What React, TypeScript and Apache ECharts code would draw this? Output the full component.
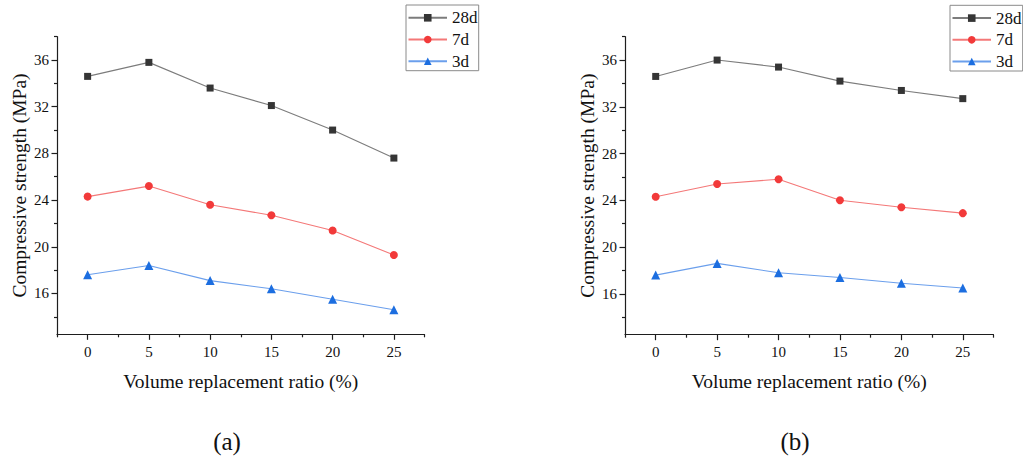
import React, { useEffect, useRef } from "react";
import * as echarts from "echarts";

// ---- data ----
const ratios = [0, 5, 10, 15, 20, 25];
const seriesNames = ["28d", "7d", "3d"];
const a28 = [34.6, 35.8, 33.6, 32.1, 30.0, 27.6];
const a7 = [24.3, 25.2, 23.6, 22.7, 21.4, 19.3];
const a3 = [17.6, 18.4, 17.1, 16.4, 15.5, 14.6];
const b28 = [34.6, 36.0, 35.4, 34.2, 33.4, 32.7];
const b7 = [24.3, 25.4, 25.8, 24.0, 23.4, 22.9];
const b3 = [17.6, 18.6, 17.8, 17.4, 16.9, 16.5];
const xMajor = [0, 5, 10, 15, 20, 25];
const xMinor = [-2.5, 2.5, 7.5, 12.5, 17.5, 22.5, 27.5];
const yMajor = [16, 20, 24, 28, 32, 36];
const yMinor = [14, 18, 22, 26, 30, 34, 38];
const panelLabels = ["(a)", "(b)"];
const xTitle = "Volume replacement ratio (%)";
const yTitle = "Compressive strength (MPa)";

const panels = [
  [a28, a7, a3],
  [b28, b7, b3],
];

// ---- styles ----
const FONT = "Liberation Serif";
const itemColors = ["#353535", "#f23a3a", "#1c6ee0"];
const lineColors = ["#7c7c7c", "#f47878", "#6b9fec"];
const symbols = ["rect", "circle", "triangle"];
const symbolSizes = [7, 8, 9];
const grids = [
  { left: 57, top: 36.7, width: 367.5, height: 297.6 },
  { left: 625, top: 36.7, width: 368.5, height: 298 },
];
const legendPos = [
  { left: 406, top: 5 },
  { left: 950, top: 5.3 },
];
const panelLabelX = [227, 795];
const AXIS_COLOR = "#1e1e1e";

function buildOption() {
  const xAxis: any[] = [];
  const yAxis: any[] = [];
  const series: any[] = [];
  grids.forEach((_, gi) => {
    xAxis.push({
      type: "value",
      gridIndex: gi,
      position: "bottom",
      min: -2.5,
      max: 27.5,
      name: xTitle,
      nameLocation: "middle",
      nameGap: 37,
      nameTextStyle: { fontFamily: FONT, fontSize: 19.5, color: "#111" },
      axisLine: { show: true, onZero: false, lineStyle: { color: AXIS_COLOR, width: 1.2 } },
      axisTick: { show: true, length: 5.5, customValues: xMajor, lineStyle: { color: AXIS_COLOR, width: 1.2 } },
      axisLabel: { show: true, customValues: xMajor, margin: 10, fontFamily: FONT, fontSize: 15, color: "#111" },
      splitLine: { show: false },
    });
    xAxis.push({
      type: "value",
      gridIndex: gi,
      position: "bottom",
      offset: 0,
      min: -2.5,
      max: 27.5,
      axisLine: { show: false, onZero: false },
      axisTick: { show: true, length: 3, customValues: xMinor, lineStyle: { color: AXIS_COLOR, width: 1.2 } },
      axisLabel: { show: false },
      splitLine: { show: false },
    });
    yAxis.push({
      type: "value",
      gridIndex: gi,
      position: "left",
      min: 12.5,
      max: 38,
      name: yTitle,
      nameLocation: "middle",
      nameGap: 28,
      nameTextStyle: { fontFamily: FONT, fontSize: 19.5, color: "#111" },
      axisLine: { show: true, onZero: false, lineStyle: { color: AXIS_COLOR, width: 1.2 } },
      axisTick: { show: true, length: 5.5, customValues: yMajor, lineStyle: { color: AXIS_COLOR, width: 1.2 } },
      axisLabel: { show: true, customValues: yMajor, margin: 8, fontFamily: FONT, fontSize: 15, color: "#111" },
      splitLine: { show: false },
    });
    yAxis.push({
      type: "value",
      gridIndex: gi,
      position: "left",
      offset: 0,
      min: 12.5,
      max: 38,
      axisLine: { show: false, onZero: false },
      axisTick: { show: true, length: 3, customValues: yMinor, lineStyle: { color: AXIS_COLOR, width: 1.2 } },
      axisLabel: { show: false },
      splitLine: { show: false },
    });
    panels[gi].forEach((vals, si) => {
      series.push({
        type: "line",
        name: seriesNames[si],
        xAxisIndex: gi * 2,
        yAxisIndex: gi * 2,
        data: ratios.map((r, k) => [r, vals[k]]),
        symbol: symbols[si],
        symbolSize: symbolSizes[si],
        showSymbol: true,
        itemStyle: { color: itemColors[si] },
        lineStyle: { color: lineColors[si], width: 1.1 },
        z: 3,
      });
    });
  });

  const legend = legendPos.map((p) => ({
    ...p,
    orient: "vertical",
    data: seriesNames,
    itemWidth: 38.5,
    itemHeight: 9.5,
    itemGap: 4.7,
    padding: [4.3, 1.2, 1, 1.5],
    borderColor: "#8a8a8a",
    borderWidth: 1,
    selectedMode: false,
    textStyle: { fontFamily: FONT, fontSize: 17, color: "#111", lineHeight: 17 },
  }));

  const graphic = panelLabels.map((t, i) => ({
    type: "text",
    x: panelLabelX[i],
    y: 441,
    style: {
      text: t,
      fontFamily: FONT,
      fontSize: 25,
      fill: "#111",
      textAlign: "center",
      textVerticalAlign: "middle",
    },
  }));

  return {
    animation: false,
    backgroundColor: "#ffffff",
    grid: grids.map((g) => ({ ...g, containLabel: false, outerBoundsMode: "none" })),
    xAxis,
    yAxis,
    legend,
    series,
    graphic,
  };
}

export default function App() {
  const ref = useRef<HTMLDivElement>(null);
  useEffect(() => {
    if (!ref.current) return;
    const chart = echarts.init(ref.current, undefined, { renderer: "svg" });
    chart.setOption(buildOption() as any);
    return () => chart.dispose();
  }, []);
  return (
    <div
      ref={ref}
      style={{ position: "fixed", left: 0, top: 0, width: 1023, height: 463, background: "#fff" }}
    />
  );
}
